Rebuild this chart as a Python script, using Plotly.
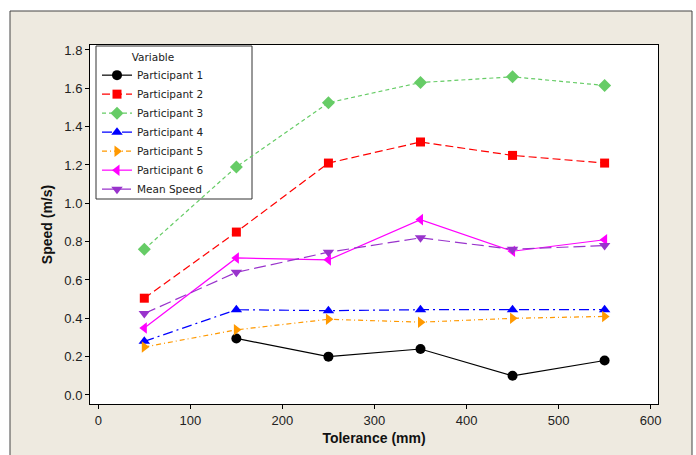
import plotly.graph_objects as go

tolerance = [50, 150, 250, 350, 450, 550]
p1 = [None, 0.295, 0.20, 0.24, 0.10, 0.18]
p2 = [0.505, 0.85, 1.21, 1.32, 1.25, 1.21]
p3 = [0.76, 1.19, 1.525, 1.63, 1.66, 1.615]
p4 = [0.28, 0.445, 0.44, 0.445, 0.445, 0.445]
p5 = [0.25, 0.34, 0.395, 0.38, 0.40, 0.41]
p6 = [0.35, 0.715, 0.705, 0.915, 0.75, 0.81]
mean_speed = [0.425, 0.64, 0.745, 0.82, 0.76, 0.78]

series = [
    ("Participant 1", p1, "#000000", "solid", "circle"),
    ("Participant 2", p2, "#FF0000", "8px,4px", "square"),
    ("Participant 3", p3, "#66CC66", "4px,3px", "diamond"),
    ("Participant 4", p4, "#0000FF", "10px,4px,2px,4px", "triangle-up"),
    ("Participant 5", p5, "#FF9900", "5px,3px,1px,3px", "triangle-right"),
    ("Participant 6", p6, "#FF00FF", "solid", "triangle-left"),
    ("Mean Speed", mean_speed, "#9933CC", "12px,5px", "triangle-down"),
]

fig = go.Figure()
for name, vals, color, dash, sym in series:
    fig.add_trace(go.Scatter(
        x=tolerance, y=vals, name=name, mode="lines+markers",
        line=dict(color=color, width=1.2, dash=dash),
        marker=dict(color=color, symbol=sym, size=10 if sym != "square" else 9),
        connectgaps=False,
    ))

W, H = 696, 455
L, R, T, B = 90, 38, 45, 51
pw, ph = W - L - R, H - T - B

def px_x(p):
    return (p - L) / pw

def px_y(p):
    return (H - B - p) / ph

fig.add_shape(type="rect", xref="paper", yref="paper",
              x0=px_x(10), x1=px_x(692), y0=px_y(470), y1=px_y(11),
              fillcolor="#EEEAE0", line=dict(color="#444444", width=1), layer="below")
fig.add_shape(type="rect", xref="paper", yref="paper",
              x0=0, x1=1, y0=0, y1=1,
              fillcolor="#FFFFFF", line=dict(width=0), layer="below")
# legend frame
fig.add_shape(type="rect", xref="paper", yref="paper",
              x0=px_x(96), x1=px_x(252), y0=px_y(199), y1=px_y(46),
              fillcolor="#FFFFFF", line=dict(color="#333333", width=1), layer="below")

axis_font = dict(family="Liberation Sans Narrow, Arial Narrow, Liberation Sans", size=13, color="#222222")
fig.update_layout(
    width=W, height=H,
    margin=dict(l=L, r=R, t=T, b=B),
    paper_bgcolor="#FFFFFF",
    plot_bgcolor="#FFFFFF",
    font=dict(family="DejaVu Sans", color="#222222"),
    xaxis=dict(
        range=[-9, 608], tickvals=[0, 100, 200, 300, 400, 500, 600],
        showline=True, linecolor="#000000", linewidth=1, mirror=True,
        ticks="outside", ticklen=4, tickcolor="#000000",
        showgrid=False, zeroline=False, tickfont=axis_font,
        title=dict(text="<b>Tolerance (mm)</b>", font=dict(family="Liberation Sans Narrow, Arial", size=14, color="#111111"), standoff=6),
    ),
    yaxis=dict(
        range=[-0.047, 1.826], tickvals=[0, 0.2, 0.4, 0.6, 0.8, 1.0, 1.2, 1.4, 1.6, 1.8],
        tickformat=".1f",
        showline=True, linecolor="#000000", linewidth=1, mirror=True,
        ticks="outside", ticklen=4, tickcolor="#000000",
        showgrid=False, zeroline=False, tickfont=axis_font,
        title=dict(text="<b>Speed (m/s)</b>", font=dict(family="Liberation Sans Narrow, Arial", size=14, color="#111111"), standoff=8),
    ),
    legend=dict(
        x=px_x(97), y=px_y(47), xanchor="left", yanchor="top",
        bgcolor="rgba(0,0,0,0)", borderwidth=0,
        font=dict(family="DejaVu Sans", size=10.5, color="#222222"),
        title=dict(text="Variable", side="top center", font=dict(family="DejaVu Sans", size=10.5, color="#222222")),
        tracegroupgap=0, itemwidth=30,
    ),
)

fig.write_html("out.html")
